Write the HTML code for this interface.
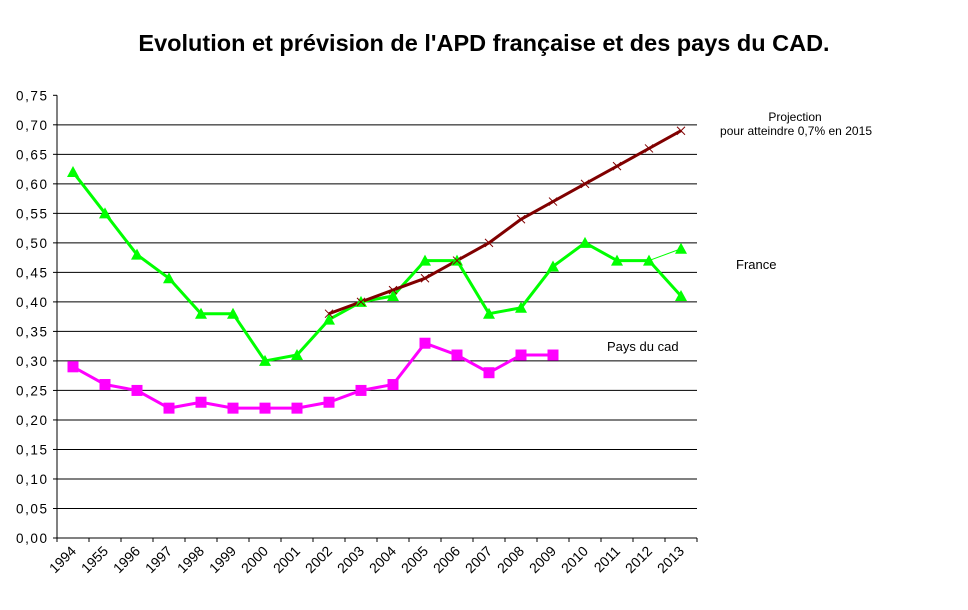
<!DOCTYPE html>
<html><head><meta charset="utf-8"><style>
body{margin:0;background:#fff;}
svg text{font-family:"Liberation Sans",Arial,sans-serif;}
</style></head><body>
<svg id="c" width="968" height="605" xmlns="http://www.w3.org/2000/svg">
<text x="484" y="51" text-anchor="middle" font-size="23.5" font-weight="bold">Evolution et prévision de l'APD française et des pays du CAD.</text>
<g id="grid"></g><g id="axes"></g><g id="series"></g>
<text x="795" y="121" text-anchor="middle" font-size="12">Projection</text>
<text x="796" y="135" text-anchor="middle" font-size="12" textLength="152">pour atteindre 0,7% en 2015</text>
<text x="736" y="269" font-size="13">France</text>
<text x="607" y="351" font-size="13">Pays du cad</text>
</svg>
<script>
const categories=["1994","1955","1996","1997","1998","1999","2000","2001","2002","2003","2004","2005","2006","2007","2008","2009","2010","2011","2012","2013"];
const yTicks=[0,0.05,0.1,0.15,0.2,0.25,0.3,0.35,0.4,0.45,0.5,0.55,0.6,0.65,0.7,0.75];
const franceValues=[0.62,0.55,0.48,0.44,0.38,0.38,0.30,0.31,0.37,0.40,0.41,0.47,0.47,0.38,0.39,0.46,0.50,0.47,0.47,0.41];
const franceAltValues=[null,null,null,null,null,null,null,null,null,null,null,null,null,null,null,null,null,null,0.47,0.49];
const cadValues=[0.29,0.26,0.25,0.22,0.23,0.22,0.22,0.22,0.23,0.25,0.26,0.33,0.31,0.28,0.31,0.31];
const projectionValues=[null,null,null,null,null,null,null,null,0.38,0.40,0.42,0.44,0.47,0.50,0.54,0.57,0.60,0.63,0.66,0.69];
const NS="http://www.w3.org/2000/svg";
const X0=57,X1=697,Y0=538,YTOP=95.3,YMAX=0.75;
const xs=i=>X0+(i+0.5)*(X1-X0)/categories.length;
const ys=v=>Y0-(v/YMAX)*(Y0-YTOP);
function mk(tag,attrs,parent){const e=document.createElementNS(NS,tag);for(const k in attrs)e.setAttribute(k,attrs[k]);parent.appendChild(e);return e;}
const grid=document.getElementById('grid'),axes=document.getElementById('axes'),ser=document.getElementById('series');
yTicks.forEach(t=>{const y=ys(t);
 if(t>0&&t<0.75){const l=mk('line',{x1:X0,x2:X1,y1:y,y2:y,stroke:'#000','stroke-width':1},grid);
 
 }
 mk('line',{x1:X0-4,x2:X0,y1:y,y2:y,stroke:'#000'},axes);
 const tx=mk('text',{x:X0-10,y:y+5,'text-anchor':'end','font-size':13.5,textLength:31},axes);tx.textContent=t.toFixed(2).replace('.',',');
 
 
});
mk('line',{x1:X0,x2:X0,y1:YTOP,y2:Y0,stroke:'#000'},axes);
mk('line',{x1:X0,x2:X1,y1:Y0,y2:Y0,stroke:'#000'},axes);
for(let i=0;i<=categories.length;i++){const x=X0+i*(X1-X0)/categories.length;mk('line',{x1:x,x2:x,y1:Y0,y2:Y0+4,stroke:'#000'},axes);}
categories.forEach((c,i)=>{const x=xs(i)+4,y=Y0+14;
 const t=mk('text',{x:x,y:y,'text-anchor':'end','font-size':14,transform:`rotate(-45 ${x} ${y})`},axes);t.textContent=c;
 
 
});
function line(vals,color,w,name){const pts=[];vals.forEach((v,i)=>{if(v!=null)pts.push(xs(i)+','+ys(v));});
 const p=mk('polyline',{points:pts.join(' '),fill:'none',stroke:color,'stroke-width':w,'stroke-linejoin':'round'},ser);
 
 }
line(franceAltValues,'#00ff00',1,'france-alt-line');
line(franceValues,'#00ff00',3,'france-line');
line(cadValues,'#ff00ff',3,'cad-line');
line(projectionValues,'#800000',3,'projection-line');
franceValues.forEach((v,i)=>{const x=xs(i),y=ys(v);const m=mk('polygon',{points:`${x-6},${y+5} ${x+6},${y+5} ${x},${y-6}`,fill:'#00ff00'},ser);
 
 });
{const i=19,v=franceAltValues[19],x=xs(i),y=ys(v);const m=mk('polygon',{points:`${x-6},${y+5} ${x+6},${y+5} ${x},${y-6}`,fill:'#00ff00'},ser);
 
 }
cadValues.forEach((v,i)=>{const x=xs(i),y=ys(v);const m=mk('rect',{x:x-5.5,y:y-5.5,width:11,height:11,fill:'#ff00ff'},ser);
 
 });
projectionValues.forEach((v,i)=>{if(v==null)return;const x=xs(i),y=ys(v);const m=mk('path',{d:`M${x-4},${y-4}L${x+4},${y+4}M${x-4},${y+4}L${x+4},${y-4}`,stroke:'#800000','stroke-width':1},ser);
 
 });
</script>
</body></html>
